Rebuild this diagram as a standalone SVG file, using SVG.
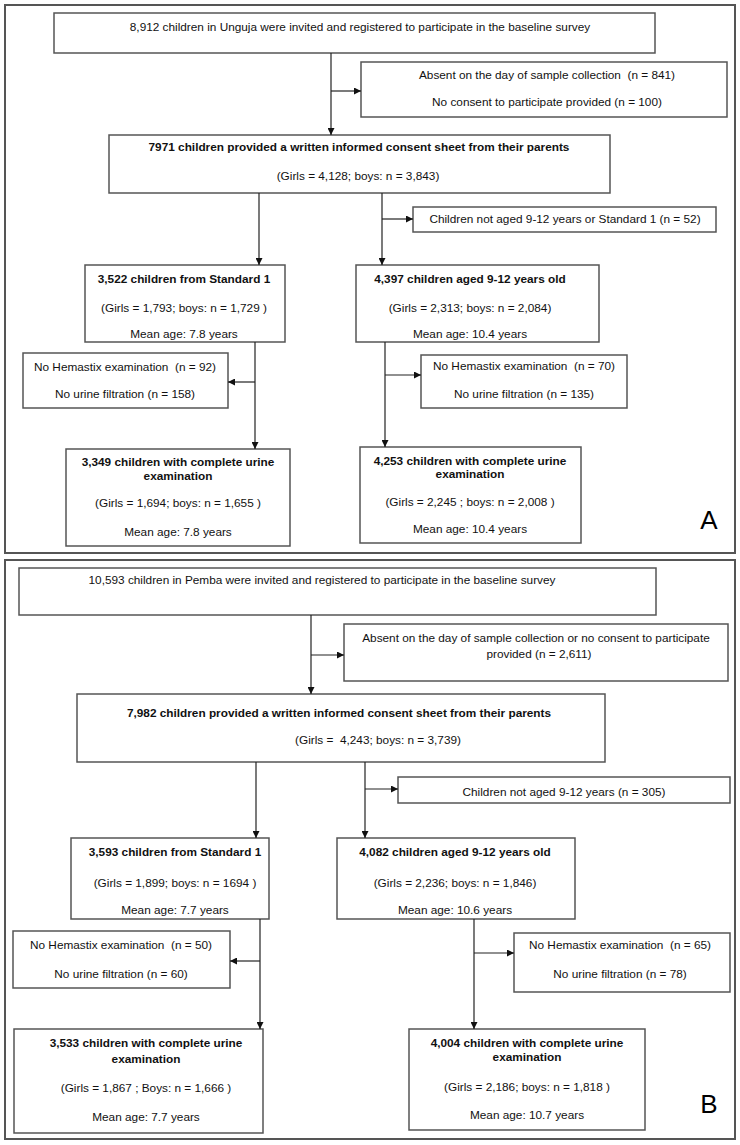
<svg xmlns="http://www.w3.org/2000/svg" width="740" height="1145" viewBox="0 0 740 1145">
<defs>
<marker id="ah" viewBox="0 0 10 10" refX="10" refY="5" markerWidth="8" markerHeight="7" markerUnits="userSpaceOnUse" orient="auto">
<path d="M0,0 L10,5 L0,10 z" fill="#111"/>
</marker>
</defs>
<style>
.panel{fill:#fff;stroke:#555;stroke-width:2}
.box{fill:#fff;stroke:#555;stroke-width:1.5}
.t{font-family:"Liberation Sans",Arial,sans-serif;font-size:11.8px;fill:#111;text-anchor:middle;white-space:pre}
.b{font-weight:bold}
.lbl{font-family:"Liberation Sans",Arial,sans-serif;font-size:26px;fill:#000;text-anchor:middle}
.c line,.c path{stroke:#222;stroke-width:1.2;fill:none}
</style>
<rect width="740" height="1145" fill="#fff"/>
<rect class="panel" x="5" y="5" width="730" height="548"/>
<rect class="panel" x="5" y="560" width="730" height="579"/>

<g id="a_top"><rect class="box" x="54" y="13" width="601" height="40"/>
<text class="t" x="360" y="31">8,912 children in Unguja were invited and registered to participate in the baseline survey</text></g>
<g id="a_excl1"><rect class="box" x="361" y="62" width="366" height="55"/>
<text class="t" x="547" y="79" xml:space="preserve">Absent on the day of sample collection  (n = 841)</text>
<text class="t" x="547" y="106">No consent to participate provided (n = 100)</text></g>
<g id="a_consent"><rect class="box" x="109" y="135" width="501" height="58"/>
<text class="t b" x="359" y="151">7971 children provided a written informed consent sheet from their parents</text>
<text class="t" x="358" y="180">(Girls = 4,128; boys: n = 3,843)</text></g>
<g id="a_excl2"><rect class="box" x="413" y="207" width="303" height="25"/>
<text class="t" x="565" y="223">Children not aged 9-12 years or Standard 1 (n = 52)</text></g>
<g id="a_std1"><rect class="box" x="85" y="265" width="200" height="77"/>
<text class="t b" x="184" y="283">3,522 children from Standard 1</text>
<text class="t" x="184" y="312">(Girls = 1,793; boys: n = 1,729 )</text>
<text class="t" x="184" y="338">Mean age: 7.8 years</text></g>
<g id="a_age"><rect class="box" x="356" y="265" width="243" height="77"/>
<text class="t b" x="470" y="283">4,397 children aged 9-12 years old</text>
<text class="t" x="470" y="312">(Girls = 2,313; boys: n = 2,084)</text>
<text class="t" x="470" y="338">Mean age: 10.4 years</text></g>
<g id="a_hem_l"><rect class="box" x="23" y="353" width="205" height="55"/>
<text class="t" x="125" y="371" xml:space="preserve">No Hemastix examination  (n = 92)</text>
<text class="t" x="125" y="398">No urine filtration (n = 158)</text></g>
<g id="a_hem_r"><rect class="box" x="421" y="355" width="206" height="53"/>
<text class="t" x="524" y="370" xml:space="preserve">No Hemastix examination  (n = 70)</text>
<text class="t" x="524" y="398">No urine filtration (n = 135)</text></g>
<g id="a_fin_l"><rect class="box" x="66" y="449" width="224" height="97"/>
<text class="t b" x="178" y="466">3,349 children with complete urine</text>
<text class="t b" x="178" y="480">examination</text>
<text class="t" x="178" y="507">(Girls = 1,694; boys: n = 1,655 )</text>
<text class="t" x="178" y="536">Mean age: 7.8 years</text></g>
<g id="a_fin_r"><rect class="box" x="360" y="447" width="221" height="96"/>
<text class="t b" x="470" y="465">4,253 children with complete urine</text>
<text class="t b" x="470" y="478">examination</text>
<text class="t" x="470" y="506">(Girls = 2,245 ; boys: n = 2,008 )</text>
<text class="t" x="470" y="533">Mean age: 10.4 years</text></g>
<text id="labelA" class="lbl" x="709" y="529">A</text>

<g id="b_top"><rect class="box" x="19" y="568" width="637" height="47"/>
<text class="t" x="322" y="584">10,593 children in Pemba were invited and registered to participate in the baseline survey</text></g>
<g id="b_excl1"><rect class="box" x="344" y="624" width="384" height="57"/>
<text class="t" x="536" y="642">Absent on the day of sample collection or no consent to participate</text>
<text class="t" x="539" y="658">provided (n = 2,611)</text></g>
<g id="b_consent"><rect class="box" x="77" y="694" width="528" height="68"/>
<text class="t b" x="339" y="717">7,982 children provided a written informed consent sheet from their parents</text>
<text class="t" x="378" y="744" xml:space="preserve">(Girls =  4,243; boys: n = 3,739)</text></g>
<g id="b_excl2"><rect class="box" x="398" y="777" width="332" height="26"/>
<text class="t" x="564" y="796">Children not aged 9-12 years (n = 305)</text></g>
<g id="b_std1"><rect class="box" x="71" y="838" width="198" height="81"/>
<text class="t b" x="175" y="856">3,593 children from Standard 1</text>
<text class="t" x="175" y="887">(Girls = 1,899; boys: n = 1694 )</text>
<text class="t" x="175" y="914">Mean age: 7.7 years</text></g>
<g id="b_age"><rect class="box" x="337" y="838" width="238" height="81"/>
<text class="t b" x="455" y="856">4,082 children aged 9-12 years old</text>
<text class="t" x="455" y="887">(Girls = 2,236; boys: n = 1,846)</text>
<text class="t" x="455" y="914">Mean age: 10.6 years</text></g>
<g id="b_hem_l"><rect class="box" x="13" y="931" width="217" height="57"/>
<text class="t" x="121" y="949" xml:space="preserve">No Hemastix examination  (n = 50)</text>
<text class="t" x="121" y="978">No urine filtration (n = 60)</text></g>
<g id="b_hem_r"><rect class="box" x="514" y="933" width="216" height="59"/>
<text class="t" x="620" y="949" xml:space="preserve">No Hemastix examination  (n = 65)</text>
<text class="t" x="620" y="978">No urine filtration (n = 78)</text></g>
<g id="b_fin_l"><rect class="box" x="14" y="1029" width="249" height="104"/>
<text class="t b" x="146" y="1047">3,533 children with complete urine</text>
<text class="t b" x="146" y="1063">examination</text>
<text class="t" x="146" y="1092">(Girls = 1,867 ; Boys: n = 1,666 )</text>
<text class="t" x="146" y="1121">Mean age: 7.7 years</text></g>
<g id="b_fin_r"><rect class="box" x="409" y="1029" width="236" height="101"/>
<text class="t b" x="527" y="1047">4,004 children with complete urine</text>
<text class="t b" x="527" y="1061">examination</text>
<text class="t" x="527" y="1091">(Girls = 2,186; boys: n = 1,818 )</text>
<text class="t" x="527" y="1119">Mean age: 10.7 years</text></g>
<text id="labelB" class="lbl" x="709" y="1113">B</text>

<g id="connectors" class="c">
<line x1="331" y1="53" x2="331" y2="135" marker-end="url(#ah)"/>
<line x1="331" y1="91" x2="361" y2="91" marker-end="url(#ah)"/>
<line x1="259" y1="193" x2="259" y2="265" marker-end="url(#ah)"/>
<line x1="382" y1="193" x2="382" y2="265" marker-end="url(#ah)"/>
<line x1="382" y1="219" x2="413" y2="219" marker-end="url(#ah)"/>
<line x1="255" y1="342" x2="255" y2="449" marker-end="url(#ah)"/>
<line x1="255" y1="382" x2="228" y2="382" marker-end="url(#ah)"/>
<line x1="385" y1="342" x2="385" y2="447" marker-end="url(#ah)"/>
<line x1="385" y1="375" x2="421" y2="375" marker-end="url(#ah)"/>
<line x1="311" y1="615" x2="311" y2="694" marker-end="url(#ah)"/>
<line x1="311" y1="655" x2="344" y2="655" marker-end="url(#ah)"/>
<line x1="256" y1="762" x2="256" y2="838" marker-end="url(#ah)"/>
<line x1="365" y1="762" x2="365" y2="838" marker-end="url(#ah)"/>
<line x1="365" y1="789" x2="398" y2="789" marker-end="url(#ah)"/>
<line x1="260" y1="919" x2="260" y2="1029" marker-end="url(#ah)"/>
<line x1="260" y1="961" x2="230" y2="961" marker-end="url(#ah)"/>
<line x1="474" y1="919" x2="474" y2="1029" marker-end="url(#ah)"/>
<line x1="474" y1="953" x2="514" y2="953" marker-end="url(#ah)"/>
</g>
</svg>
